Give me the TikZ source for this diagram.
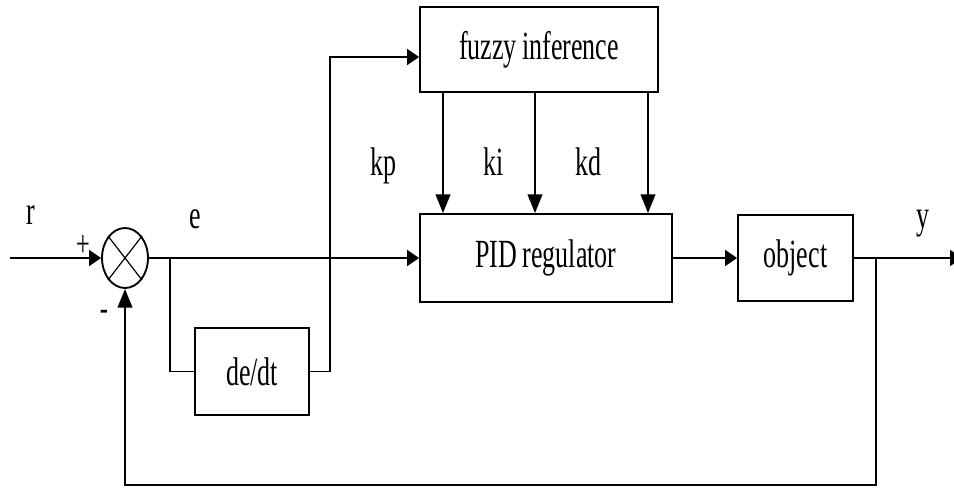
\documentclass[tikz,border=0pt]{standalone}
\usepackage{fontspec}
\setmainfont{Liberation Serif}[FakeStretch=0.65,WordSpace=0.85]
\usetikzlibrary{arrows.meta,shapes.geometric}

\tikzset{
  blk/.style={draw,line width=1.4pt,inner sep=0pt,font=\fontsize{30}{30}\selectfont},
  lbl/.style={inner sep=0.75pt,font=\fontsize{30}{30}\selectfont},
  sgn/.style={inner sep=0.75pt,font=\fontsize{28}{28}\selectfont},
  wire/.style={line width=1.4pt},
  harr/.style={wire,-{Triangle[length=9pt,width=12pt]}},
  varr/.style={wire,-{Triangle[length=14pt,width=11pt]}}
}

\begin{document}
\begin{tikzpicture}[x=0.75pt,y=0.75pt,yscale=-1,xscale=1]
\clip (0,0) rectangle (954,487);

%Summing junction
\node [draw,ellipse,line width=1.4pt,minimum width=34.5pt,minimum height=45pt,inner sep=0pt] (sum) at (125,258) {};
\draw [line width=0.9pt] (sum.north east) -- (sum.south west) ;
\draw [line width=0.9pt] (sum.north west) -- (sum.south east) ;

%Blocks
\node [blk,minimum width=178.5pt,minimum height=63.75pt] (fuzzy) at (539,49.5) {fuzzy inference\hspace{24pt}};
\node [blk,minimum width=189pt,minimum height=66pt] (pid) at (546,258) {PID regulator};
\node [blk,minimum width=86.25pt,minimum height=64pt] (obj) at (795.5,258) {object};
\node [blk,minimum width=85.5pt,minimum height=65.25pt] (dedt) at (252,371.5) {de/dt\hspace{10pt}};

%Helper points
\coordinate (rin) at (10,258);
\coordinate (br1) at (170,258);
\coordinate (up) at (330,57);
\coordinate (kpx) at (443,0);
\coordinate (kix) at (535,0);
\coordinate (kdx) at (648,0);
\coordinate (br2) at (876,258);
\coordinate (fb) at (876,485);
\coordinate (yout) at (962,258);

%Connectors
\draw [harr] (rin) -- (sum.west) ;
\draw [harr] (sum.east) -- (pid.west) ;
\draw [wire] (br1) |- (dedt.west) ;
\draw [harr] (dedt.east) -| (up) -- (fuzzy.west |- up) ;
\draw [varr] (kpx |- fuzzy.south) -- (kpx |- pid.north) ;
\draw [varr] (kix |- fuzzy.south) -- (kix |- pid.north) ;
\draw [varr] (kdx |- fuzzy.south) -- (kdx |- pid.north) ;
\draw [harr] (pid.east) -- (obj.west) ;
\draw [harr] (obj.east) -- (yout) ;
\draw [varr] (br2) -- (fb) -| (sum.south) ;

% Text Node
\node [lbl] (r) at (31,215) {r};
% Text Node
\node [sgn] (plus) at (83,246) {+};
% Text Node
\node [sgn] (minus) at (104,315) {-};
% Text Node
\node [lbl] (e) at (195,219) {e};
% Text Node
\node [lbl] (kp) at (383,166) {kp};
% Text Node
\node [lbl] (ki) at (494,162) {ki};
% Text Node
\node [lbl] (kd) at (588,162) {kd};
% Text Node
\node [lbl] (y) at (923,224) {y};

\end{tikzpicture}
\end{document}
